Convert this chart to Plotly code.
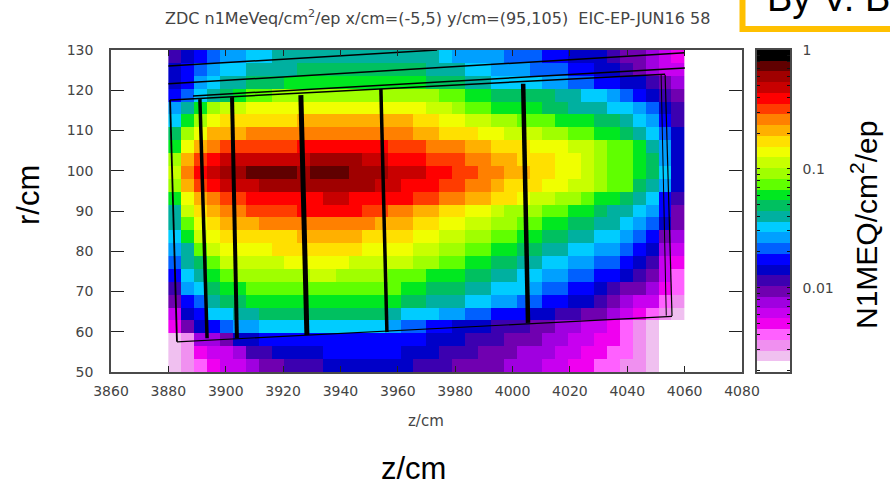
import plotly.graph_objects as go
import math

W, H = 890, 482

# colour bands, lowest (index 0) to highest (index 29)
band_colors = ["#ffffff","#f0c0f0","#f090f0","#ff60ff","#f000f0","#c800f0","#a000e0","#7000b0","#3c00b0","#0000c8",
               "#0000ff","#0060ff","#00a0ff","#00ccff","#00b0a0","#00c060","#00e820","#60ff00","#a0ff00","#c8ff00",
               "#f0ff00","#ffe000","#ffb000","#ff8000","#ff3c00","#ff0000","#c80000","#a00000","#600000","#000000"]

# dose band per bin, rows from r=130 down to r=50, columns from z=3880 to z=4060
dose_bands = [
 [8,9,10,11,12,12,13,13,14,14,14,14,14,14,14,14,14,14,14,14,14,13,12,12,12,12,11,11,11,10,10,9,9,9,8,7,7,6,5,4],
 [9,10,11,12,13,13,14,14,14,14,15,15,15,15,15,15,15,15,15,15,14,14,14,13,13,12,12,12,11,11,11,10,10,9,9,8,7,6,5,5],
 [9,10,12,13,14,14,15,15,15,16,16,16,16,16,16,16,16,16,16,16,15,15,15,14,14,13,13,13,13,12,12,11,11,10,10,9,9,8,7,6],
 [10,11,13,14,15,16,17,17,18,18,18,18,18,18,18,18,18,18,18,18,18,17,17,16,16,15,15,15,15,15,14,14,13,13,12,11,10,9,8,7],
 [12,14,16,18,19,19,20,20,20,20,20,20,20,20,20,20,20,20,20,20,19,19,18,17,17,16,16,16,16,15,15,14,14,14,13,13,12,11,9,8],
 [13,16,18,20,21,21,21,21,21,21,22,22,22,22,22,22,22,22,22,21,21,20,20,19,19,18,18,17,17,17,16,16,16,15,15,14,13,12,10,8],
 [15,18,20,22,22,22,23,23,23,23,23,23,23,23,23,23,23,23,23,22,22,21,21,21,20,20,19,19,19,18,18,17,17,16,16,15,14,13,11,9],
 [16,20,22,23,24,24,24,24,24,24,25,25,25,25,25,25,25,24,24,24,23,23,23,22,22,21,21,21,20,20,20,19,19,18,17,17,16,14,12,9],
 [18,22,24,25,26,26,26,26,26,26,26,27,27,27,27,26,26,25,25,25,24,24,24,23,23,22,22,21,21,21,20,20,19,18,17,17,16,15,12,9],
 [19,23,25,26,27,27,28,28,28,28,27,28,28,28,27,27,27,26,26,26,25,25,24,24,23,23,22,22,21,21,20,20,19,18,17,17,16,15,13,9],
 [18,22,24,25,26,26,26,27,27,27,27,27,27,27,27,27,26,26,25,25,25,24,24,23,23,22,21,21,21,20,20,19,19,18,17,17,15,14,12,9],
 [16,20,22,23,24,24,25,25,25,25,25,25,26,26,25,25,25,25,25,24,24,23,23,22,22,21,21,20,19,19,18,18,17,16,16,15,14,13,10,8],
 [14,19,21,22,23,23,24,24,24,24,25,25,25,25,25,24,24,23,23,22,22,21,21,20,20,19,18,18,18,17,17,16,16,15,14,14,13,12,10,7],
 [14,17,20,21,22,22,22,23,23,23,23,23,23,23,23,23,22,22,22,21,21,20,20,19,19,18,18,17,17,16,16,15,15,14,14,13,12,11,9,7],
 [13,16,19,20,21,21,21,21,21,21,22,22,22,22,22,21,21,21,21,20,20,19,19,18,18,17,17,16,16,15,15,14,14,13,13,12,11,10,7,6],
 [12,14,17,19,20,20,20,20,21,21,21,21,21,21,21,20,20,20,20,19,19,18,18,17,17,16,16,15,15,14,14,13,13,12,12,11,10,9,6,5],
 [11,14,15,17,19,19,19,19,19,20,20,20,20,20,19,19,19,19,19,18,18,17,17,16,16,15,15,14,14,13,13,12,12,11,11,10,9,8,5,4],
 [10,13,14,16,17,18,18,18,18,18,18,19,19,18,18,18,18,17,17,17,16,16,16,15,15,14,14,13,13,12,12,11,11,10,10,9,8,7,5,3],
 [8,12,13,15,16,16,17,17,17,17,17,17,17,17,17,17,17,17,16,16,15,15,15,14,14,13,13,13,12,11,11,10,10,9,8,7,7,6,4,3],
 [7,10,11,14,15,15,16,16,16,16,16,16,16,16,16,16,16,16,15,15,14,14,14,13,13,12,12,11,11,10,10,9,9,8,7,6,5,5,3,2],
 [5,9,10,13,13,14,14,15,15,15,15,15,15,15,15,15,15,14,13,13,13,12,12,11,11,10,10,10,9,9,8,8,7,7,6,5,4,3,2,1],
 [4,7,9,10,11,12,12,13,13,13,13,13,13,13,13,13,13,12,11,11,10,10,9,9,9,8,8,8,7,7,6,6,5,5,4,3,2,1,0,0],
 [1,2,6,6,7,9,9,10,10,10,10,10,10,10,10,10,10,10,10,10,9,9,9,8,8,8,7,7,7,6,6,5,5,4,4,3,2,1,0,0],
 [1,2,4,5,5,6,8,8,9,9,9,9,10,10,10,10,10,10,9,9,9,8,8,8,7,7,7,6,6,6,5,5,4,4,3,3,2,1,0,0],
 [1,2,3,4,5,5,6,7,7,8,8,8,9,9,9,9,9,9,9,8,8,8,7,7,7,7,6,6,6,5,5,4,4,3,3,2,2,1,0,0],
]

# detector outlines, (z, r) end points
line_a_z, line_a_r = [3880.0, 3973.7], [126.0, 130.0]
line_b_z, line_b_r = [3880.0, 4060.1], [121.6, 129.3]
line_c_z, line_c_r = [3888.6, 4060.1], [118.6, 125.5]
line_d_z, line_d_r = [3880.6, 4053.2], [117.6, 124.0]
line_e_z, line_e_r = [3883.0, 4055.6], [57.5, 63.8]
wall_z = [[3880.6, 3883.0], [3891.0, 3893.5], [3902.2, 3903.9], [3926.2, 3928.3], [3954.1, 3956.2], [4003.7, 4005.4], [4053.2, 4055.6], [4051.8, 4053.6]]
wall_r = [[117.6, 57.5], [117.8, 58.4], [118.3, 58.4], [118.8, 59.2], [120.3, 59.9], [121.6, 62.2], [123.8, 63.9], [123.8, 64.0]]
wall_w = [1.8, 3.5, 4, 5, 3.5, 4.5, 1.2, 1.0]

bar_ticks = [0.01, 0.1, 1]
bar_minor = [0.002, 0.003, 0.004, 0.005, 0.006, 0.007, 0.008, 0.009, 0.02, 0.03, 0.04, 0.05, 0.06, 0.07, 0.08, 0.09, 0.2, 0.3, 0.4, 0.5, 0.6, 0.7, 0.8, 0.9]
bar_min = 0.00195

n = len(band_colors)
colorscale = []
for k, c in enumerate(band_colors):
    colorscale += [[k / n, c], [(k + 1) / n, c]]

fig = go.Figure()
fig.add_trace(go.Heatmap(z=dose_bands[::-1], x0=3882.25, dx=4.5, y0=51.6, dy=3.2,
                         colorscale=colorscale, zmin=-0.5, zmax=n - 0.5, showscale=False, hoverinfo="skip"))
for zs, rs, w in [(line_a_z, line_a_r, 1.5), (line_b_z, line_b_r, 1.5), (line_c_z, line_c_r, 1.5),
                  (line_d_z, line_d_r, 1.5), (line_e_z, line_e_r, 1.2)]:
    fig.add_trace(go.Scatter(x=zs, y=rs, mode="lines", line=dict(color="#000000", width=w), showlegend=False))
for zs, rs, w in zip(wall_z, wall_r, wall_w):
    fig.add_trace(go.Scatter(x=zs, y=rs, mode="lines", line=dict(color="#000000", width=w), showlegend=False))

# colour bar drawn against its own log axis
bar_edges = [bar_min * (1 / bar_min) ** (k / n) for k in range(n + 1)]
fig.add_trace(go.Heatmap(z=[[k] for k in range(n)], x=[0, 1], y=bar_edges, xaxis="x2", yaxis="y2",
                         colorscale=colorscale, zmin=-0.5, zmax=n - 0.5, showscale=False, hoverinfo="skip"))

axis_col = "#4a4a4a"
tick_font = dict(family="DejaVu Sans", size=14, color="#444444")
fig.update_layout(
    width=W, height=H, margin=dict(l=0, r=0, t=0, b=0, autoexpand=False), paper_bgcolor="white", plot_bgcolor="white", showlegend=False,
    xaxis=dict(domain=[111 / W, 742 / W], range=[3860, 4080], tick0=3860, dtick=20, ticks="inside", ticklen=6, tickwidth=1,
               tickcolor="#222222", showline=True, linecolor=axis_col, linewidth=1.5, mirror="ticks", showgrid=False,
               zeroline=False, tickfont=tick_font, anchor="y", ticklabelstandoff=5, automargin=False),
    yaxis=dict(domain=[1 - 372 / H, 1 - 50 / H], range=[50, 130], tick0=50, dtick=10, ticks="inside", ticklen=13, tickwidth=1,
               tickcolor="#222222", showline=True, linecolor=axis_col, linewidth=1.5, mirror="ticks", showgrid=False,
               zeroline=False, tickfont=tick_font, anchor="x", ticklabelstandoff=13, automargin=False),
    xaxis2=dict(domain=[757 / W, 790 / W], range=[0, 1], showticklabels=False, ticks="", showline=True, linecolor=axis_col,
                linewidth=1.5, mirror=True, showgrid=False, zeroline=False, anchor="y2", automargin=False),
    yaxis2=dict(domain=[1 - 372 / H, 1 - 50 / H], type="log", range=[math.log10(bar_min), 0], side="right", anchor="x2",
                tickmode="array", tickvals=bar_ticks + bar_minor,
                ticktext=["0.01", "0.1", "1"] + [""] * len(bar_minor),
                ticks="inside", ticklen=3, tickwidth=1, tickcolor="#111111", showline=True, linecolor=axis_col, linewidth=1.5,
                mirror="ticks", showgrid=False, zeroline=False, tickfont=tick_font, ticklabelstandoff=8, automargin=False),
    shapes=[dict(type="rect", xref="paper", yref="paper", x0=742.5 / W, x1=1.02, y0=1 - 29 / H, y1=1.05,
                 line=dict(color="#ffc000", width=6), fillcolor="rgba(0,0,0,0)")],
    annotations=[
        dict(text="ZDC n1MeVeq/cm<sup>2</sup>/ep x/cm=(-5,5) y/cm=(95,105)&nbsp;&nbsp;EIC-EP-JUN16 58", xref="paper", yref="paper",
             x=437 / W, y=1 - 18 / H, xanchor="center", yanchor="middle", showarrow=False,
             font=dict(family="DejaVu Sans", size=16, color="#444444")),
        dict(text="z/cm", xref="paper", yref="paper", x=426 / W, y=1 - 421 / H, xanchor="center", yanchor="middle",
             showarrow=False, font=dict(family="DejaVu Sans", size=15, color="#444444")),
        dict(text="z/cm", xref="paper", yref="paper", x=413 / W, y=1 - 468 / H, xanchor="center", yanchor="middle",
             showarrow=False, font=dict(family="Liberation Sans", size=31, color="#000000")),
        dict(text="r/cm", xref="paper", yref="paper", x=28 / W, y=1 - 195 / H, xanchor="center", yanchor="middle",
             textangle=-90, showarrow=False, font=dict(family="Liberation Sans", size=31, color="#000000")),
        dict(text="N1MEQ/cm<sup>2</sup>/ep", xref="paper", yref="paper", x=864 / W, y=1 - 225 / H, xanchor="center",
             yanchor="middle", textangle=-90, showarrow=False, font=dict(family="Liberation Sans", size=30, color="#000000")),
        dict(text="By V. B", xref="paper", yref="paper", x=765 / W, y=1 - 21 / H, xanchor="left", yanchor="bottom",
             showarrow=False, font=dict(family="Liberation Sans", size=38, color="#000000")),
    ],
)
fig.write_html("out.html", config={"displayModeBar": False},
               post_script="document.documentElement.style.overflow='hidden';document.body.style.margin='0';window.dispatchEvent(new Event('resize'));")
